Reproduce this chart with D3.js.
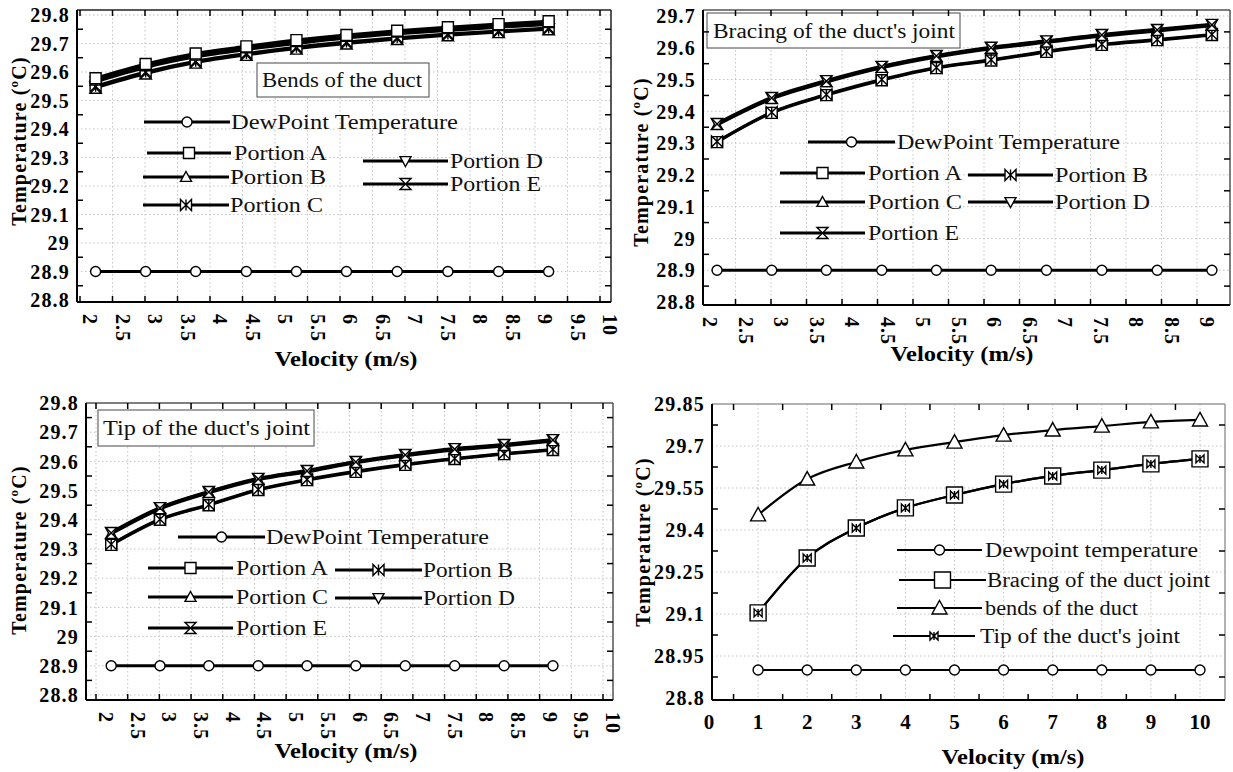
<!DOCTYPE html>
<html>
<head>
<meta charset="utf-8">
<script src="https://cdn.jsdelivr.net/npm/d3@7"></script>
<style>
body { margin: 0; background: #fff; }
text { font-family: "Liberation Serif", "Times New Roman", serif; }
</style>
</head>
<body>
<script>
// ---- data ----
var velocityPortion = [2.24, 3.01, 3.78, 4.56, 5.33, 6.1, 6.88, 7.66, 8.44, 9.21];
var velocity = [1, 2, 3, 4, 5, 6, 7, 8, 9, 10];
var dewPoint = [28.9, 28.9, 28.9, 28.9, 28.9, 28.9, 28.9, 28.9, 28.9, 28.9];

var portionNames = ["Portion A", "Portion B", "Portion C", "Portion D", "Portion E"];
var dewName = "DewPoint Temperature";

// bends of the duct
var bendsA = [29.578, 29.628, 29.665, 29.69, 29.712, 29.73, 29.745, 29.757, 29.768, 29.778];
var bendsB = [29.57, 29.62, 29.657, 29.683, 29.705, 29.723, 29.738, 29.75, 29.761, 29.771];
var bendsC = [29.55, 29.6, 29.638, 29.665, 29.687, 29.705, 29.72, 29.733, 29.744, 29.754];
var bendsD = [29.566, 29.616, 29.653, 29.679, 29.7, 29.719, 29.734, 29.746, 29.757, 29.767];
var bendsE = [29.545, 29.595, 29.633, 29.66, 29.682, 29.7, 29.716, 29.729, 29.74, 29.75];

// bracing of the duct's joint
var bracingA = [29.303, 29.395, 29.451, 29.498, 29.536, 29.56, 29.587, 29.609, 29.624, 29.64];
var bracingB = [29.305, 29.397, 29.453, 29.5, 29.538, 29.562, 29.589, 29.611, 29.626, 29.642];
var bracingC = [29.357, 29.439, 29.492, 29.537, 29.571, 29.597, 29.617, 29.637, 29.653, 29.669];
var bracingD = [29.362, 29.444, 29.497, 29.542, 29.576, 29.602, 29.622, 29.642, 29.658, 29.674];
var bracingE = [29.36, 29.442, 29.495, 29.54, 29.574, 29.6, 29.62, 29.64, 29.656, 29.672];

// tip of the duct's joint
var tipA = [29.314, 29.4, 29.45, 29.502, 29.536, 29.564, 29.588, 29.608, 29.625, 29.639];
var tipB = [29.316, 29.402, 29.452, 29.504, 29.538, 29.566, 29.59, 29.61, 29.627, 29.641];
var tipC = [29.352, 29.437, 29.492, 29.537, 29.564, 29.595, 29.619, 29.639, 29.653, 29.67];
var tipD = [29.357, 29.442, 29.497, 29.542, 29.569, 29.6, 29.624, 29.644, 29.658, 29.675];
var tipE = [29.355, 29.44, 29.495, 29.54, 29.567, 29.598, 29.622, 29.642, 29.656, 29.673];

// comparison
var compareNames = ["Dewpoint temperature", "Bracing of the duct joint", "bends of the duct", "Tip of the duct's joint"];
var compareBends = [29.454, 29.582, 29.643, 29.686, 29.714, 29.739, 29.757, 29.771, 29.786, 29.793];
var compareBracing = [29.104, 29.3, 29.407, 29.479, 29.525, 29.564, 29.593, 29.614, 29.636, 29.654];
var compareTip = [29.104, 29.3, 29.407, 29.479, 29.525, 29.564, 29.593, 29.614, 29.636, 29.654];

// tick labels
var xTicksPortion = ["2", "2.5", "3", "3.5", "4", "4.5", "5", "5.5", "6", "6.5", "7", "7.5", "8", "8.5", "9", "9.5", "10"];
var xTicksBracing = ["2", "2.5", "3", "3.5", "4", "4.5", "5", "5.5", "6", "6.5", "7", "7.5", "8", "8.5", "9"];
var xTicksCompare = ["0", "1", "2", "3", "4", "5", "6", "7", "8", "9", "10"];
var yTicksTenth = ["28.8", "28.9", "29", "29.1", "29.2", "29.3", "29.4", "29.5", "29.6", "29.7", "29.8"];
var yTicksBracing = ["28.8", "28.9", "29", "29.1", "29.2", "29.3", "29.4", "29.5", "29.6", "29.7"];
var yTicksCompare = ["28.8", "28.95", "29.1", "29.25", "29.4", "29.55", "29.7", "29.85"];

var svg = d3.select("body").append("svg").attr("width", 1233).attr("height", 772);

var markerPath = function(type, s) {
  if (type == "circle") return "M" + (-s) + ",0a" + s + "," + s + " 0 1,0 " + (2 * s) + ",0a" + s + "," + s + " 0 1,0 " + (-2 * s) + ",0Z";
  if (type == "square") return "M" + (-s) + "," + (-s) + "h" + (2 * s) + "v" + (2 * s) + "h" + (-2 * s) + "Z";
  if (type == "up") return "M0," + (-s) + "L" + s + "," + (s * 0.8) + "L" + (-s) + "," + (s * 0.8) + "Z";
  if (type == "down") return "M0," + s + "L" + s + "," + (-s * 0.8) + "L" + (-s) + "," + (-s * 0.8) + "Z";
  if (type == "bowtie") return "M" + (-s) + "," + (-s) + "L" + s + "," + s + "L" + s + "," + (-s) + "L" + (-s) + "," + s + "ZM0," + (-s) + "V" + s;
  if (type == "hourglass") return "M" + (-s) + "," + (-s) + "L" + s + "," + (-s) + "L" + (-s) + "," + s + "L" + s + "," + s + "Z";
};

var midpoints = function(vals) {
  var out = [];
  for (var i = 0; i < vals.length - 1; i++) out.push((+vals[i] + +vals[i + 1]) / 2);
  return out;
};

var drawPanel = function(p) {
  var g = svg.append("g");
  var f = p.frame;
  var x = d3.scaleLinear().domain(p.xDomain).range(p.xRange);
  var y = d3.scaleLinear().domain(p.yDomain).range(p.yRange);

  // dotted grid
  g.selectAll(".gx").data(p.gridX.filter(function(d) { return x(d) > f.left + 3 && x(d) < f.right - 3; }))
    .enter().append("line")
    .attr("x1", function(d) { return x(d); }).attr("x2", function(d) { return x(d); })
    .attr("y1", f.top).attr("y2", f.bottom)
    .attr("stroke", "#c4c4c4").attr("stroke-dasharray", "1.5,2.5");
  g.selectAll(".gy").data(p.yTicks.filter(function(d) { return y(+d) > f.top + 3 && y(+d) < f.bottom - 3; }))
    .enter().append("line")
    .attr("y1", function(d) { return y(+d); }).attr("y2", function(d) { return y(+d); })
    .attr("x1", f.left).attr("x2", f.right)
    .attr("stroke", "#c4c4c4").attr("stroke-dasharray", "1.5,2.5");

  // title box
  if (p.title) {
    var t = p.title;
    g.append("rect").attr("x", t.x).attr("y", t.y).attr("width", t.w).attr("height", t.h)
      .attr("fill", "#fff").attr("stroke", "#666").attr("stroke-width", 1.2);
    g.append("text").attr("x", t.tx).attr("y", t.y + t.h / 2 + 7).attr("font-size", 20)
      .attr("textLength", t.tw).attr("lengthAdjust", "spacingAndGlyphs").attr("fill", "#111").text(t.text);
  }

  // frame
  g.append("line").attr("x1", f.left).attr("x2", f.right).attr("y1", f.top).attr("y2", f.top).attr("stroke", p.topColor).attr("stroke-width", 1.5);
  g.append("line").attr("x1", f.right).attr("x2", f.right).attr("y1", f.top).attr("y2", f.bottom).attr("stroke", p.topColor).attr("stroke-width", 1.5);
  g.append("line").attr("x1", f.left).attr("x2", f.left).attr("y1", f.top).attr("y2", f.bottom).attr("stroke", "#000").attr("stroke-width", 2);
  g.append("line").attr("x1", f.left).attr("x2", f.right).attr("y1", f.bottom).attr("y2", f.bottom).attr("stroke", "#000").attr("stroke-width", 2);

  // inward ticks
  var xt = p.xTickAt.filter(function(d) { return x(d) > f.left + 2 && x(d) < f.right - 2; });
  var yt = midpoints(p.yTicks);
  [f.top, f.bottom].forEach(function(edge, k) {
    g.selectAll(null).data(xt).enter().append("line")
      .attr("x1", function(d) { return x(d); }).attr("x2", function(d) { return x(d); })
      .attr("y1", edge).attr("y2", k == 0 ? edge + 6 : edge - 6)
      .attr("stroke", "#000").attr("stroke-width", 1.5);
  });
  [f.left, f.right].forEach(function(edge, k) {
    g.selectAll(null).data(yt).enter().append("line")
      .attr("y1", function(d) { return y(d); }).attr("y2", function(d) { return y(d); })
      .attr("x1", edge).attr("x2", k == 0 ? edge + 6 : edge - 6)
      .attr("stroke", "#000").attr("stroke-width", 1.5);
  });

  // tick labels
  g.selectAll(null).data(p.yTicks).enter().append("text")
    .attr("x", f.left - 7).attr("y", function(d) { return y(+d); }).attr("dy", "0.36em")
    .attr("text-anchor", "end").attr("font-size", 20).attr("font-weight", "bold")
    .attr("letter-spacing", 1.2).text(function(d) { return d; });
  if (p.rotateX) {
    g.selectAll(null).data(p.xTicks).enter().append("text")
      .attr("transform", function(d) { return "translate(" + (x(+d) + 3) + "," + (f.bottom + 12) + ") rotate(90)"; })
      .attr("font-size", 20).attr("font-weight", "bold").attr("letter-spacing", 1)
      .text(function(d) { return d; });
  } else {
    g.selectAll(null).data(p.xTicks).enter().append("text")
      .attr("x", function(d) { return x(+d); }).attr("y", f.bottom + 29)
      .attr("text-anchor", "middle").attr("font-size", 21).attr("font-weight", "bold")
      .text(function(d) { return d; });
  }

  // axis titles
  var yt2 = g.append("text").attr("transform", "translate(" + p.yTitle[0] + "," + p.yTitle[1] + ") rotate(-90)")
    .attr("text-anchor", "middle").attr("dy", "0.35em").attr("font-size", 20).attr("font-weight", "bold").attr("letter-spacing", 1.2);
  yt2.append("tspan").text("Temperature (");
  yt2.append("tspan").attr("font-size", 13).attr("dy", -8).text("o");
  yt2.append("tspan").attr("dy", 8).text("C)");
  g.append("text").attr("x", p.xTitle[0]).attr("y", p.xTitle[1]).attr("text-anchor", "middle")
    .attr("font-size", 20).attr("font-weight", "bold").attr("textLength", 143).attr("lengthAdjust", "spacingAndGlyphs")
    .text("Velocity (m/s)");

  // series
  var line = d3.line().curve(d3.curveMonotoneX);
  p.series.forEach(function(s) {
    var pts = s.values.map(function(v, i) { return [x(s.xs[i]), y(v)]; });
    g.append("path").attr("d", line(pts)).attr("fill", "none").attr("stroke", "#000").attr("stroke-width", p.lineWidth);
  });
  p.series.forEach(function(s) {
    var pts = s.values.map(function(v, i) { return [x(s.xs[i]), y(v)]; });
    g.selectAll(null).data(pts).enter().append("path")
      .attr("transform", function(d) { return "translate(" + d[0] + "," + d[1] + ")"; })
      .attr("d", markerPath(s.marker, s.size))
      .attr("fill", "#fff").attr("stroke", "#000").attr("stroke-width", 1.4);
  });

  // legend
  p.legend.forEach(function(l) {
    g.append("line").attr("x1", l.x0).attr("x2", l.x1).attr("y1", l.y).attr("y2", l.y)
      .attr("stroke", "#000").attr("stroke-width", p.lineWidth);
    g.append("path").attr("transform", "translate(" + ((l.x0 + l.x1) / 2) + "," + l.y + ")")
      .attr("d", markerPath(l.marker, l.size)).attr("fill", "#fff").attr("stroke", "#000").attr("stroke-width", 1.4);
    g.append("text").attr("x", l.tx).attr("y", l.y + 7).attr("font-size", 20).attr("fill", "#111")
      .attr("textLength", l.tw).attr("lengthAdjust", "spacingAndGlyphs").text(l.label);
  });
};

// ---- panel 1: bends of the duct ----
drawPanel({
  frame: { left: 77, top: 10, right: 611, bottom: 302 },
  xDomain: [2, 10], xRange: [80, 600],
  yDomain: [28.8, 29.8], yRange: [300, 15],
  xTicks: xTicksPortion, xTickAt: xTicksPortion.map(Number), gridX: xTicksPortion.map(Number),
  yTicks: yTicksTenth, rotateX: true, topColor: "#222", lineWidth: 3,
  yTitle: [19, 141], xTitle: [346, 366],
  title: { x: 257, y: 63, w: 172, h: 34, tx: 262, tw: 160, text: "Bends of the duct" },
  series: [
    { xs: velocityPortion, values: dewPoint, marker: "circle", size: 5 },
    { xs: velocityPortion, values: bendsE, marker: "hourglass", size: 5.5 },
    { xs: velocityPortion, values: bendsC, marker: "bowtie", size: 5.5 },
    { xs: velocityPortion, values: bendsD, marker: "down", size: 5.5 },
    { xs: velocityPortion, values: bendsB, marker: "up", size: 5.5 },
    { xs: velocityPortion, values: bendsA, marker: "square", size: 5.5 }
  ],
  legend: [
    { marker: "circle", size: 5, x0: 144, x1: 230, y: 122, tx: 231, tw: 227, label: dewName },
    { marker: "square", size: 5.5, x0: 147, x1: 231, y: 153, tx: 234, tw: 93, label: portionNames[0] },
    { marker: "up", size: 5.5, x0: 143, x1: 229, y: 177, tx: 230, tw: 96, label: portionNames[1] },
    { marker: "bowtie", size: 5.5, x0: 143, x1: 229, y: 205, tx: 230, tw: 93, label: portionNames[2] },
    { marker: "down", size: 5.5, x0: 363, x1: 448, y: 161, tx: 450, tw: 93, label: portionNames[3] },
    { marker: "hourglass", size: 5.5, x0: 363, x1: 448, y: 184, tx: 450, tw: 91, label: portionNames[4] }
  ]
});

// ---- panel 2: bracing of the duct's joint ----
drawPanel({
  frame: { left: 703, top: 10, right: 1230, bottom: 305 },
  xDomain: [2, 9], xRange: [700, 1197],
  yDomain: [28.8, 29.7], yRange: [302, 16],
  xTicks: xTicksBracing, xTickAt: xTicksBracing.map(Number), gridX: xTicksBracing.map(Number),
  yTicks: yTicksBracing, rotateX: true, topColor: "#555", lineWidth: 3,
  yTitle: [641, 162], xTitle: [962, 361],
  title: { x: 707, y: 13, w: 253, h: 35, tx: 713, tw: 242, text: "Bracing of the duct's joint" },
  series: [
    { xs: velocityPortion, values: dewPoint, marker: "circle", size: 5 },
    { xs: velocityPortion, values: bracingA, marker: "square", size: 5.5 },
    { xs: velocityPortion, values: bracingB, marker: "bowtie", size: 5.5 },
    { xs: velocityPortion, values: bracingC, marker: "up", size: 5.5 },
    { xs: velocityPortion, values: bracingD, marker: "down", size: 5.5 },
    { xs: velocityPortion, values: bracingE, marker: "hourglass", size: 5.5 }
  ],
  legend: [
    { marker: "circle", size: 5, x0: 808, x1: 895, y: 142, tx: 897, tw: 223, label: dewName },
    { marker: "square", size: 5.5, x0: 780, x1: 865, y: 173, tx: 868, tw: 94, label: portionNames[0] },
    { marker: "bowtie", size: 5.5, x0: 968, x1: 1053, y: 175, tx: 1055, tw: 93, label: portionNames[1] },
    { marker: "up", size: 5.5, x0: 780, x1: 865, y: 202, tx: 868, tw: 94, label: portionNames[2] },
    { marker: "down", size: 5.5, x0: 968, x1: 1053, y: 202, tx: 1055, tw: 95, label: portionNames[3] },
    { marker: "hourglass", size: 5.5, x0: 780, x1: 865, y: 233, tx: 868, tw: 91, label: portionNames[4] }
  ]
});

// ---- panel 3: tip of the duct's joint ----
drawPanel({
  frame: { left: 86, top: 403, right: 613, bottom: 700 },
  xDomain: [2, 10], xRange: [96, 603],
  yDomain: [28.8, 29.8], yRange: [695, 403],
  xTicks: xTicksPortion, xTickAt: xTicksPortion.map(Number), gridX: xTicksPortion.map(Number),
  yTicks: yTicksTenth, rotateX: true, topColor: "#555", lineWidth: 3,
  yTitle: [19, 550], xTitle: [346, 758],
  title: { x: 98, y: 410, w: 216, h: 36, tx: 103, tw: 207, text: "Tip of the duct's joint" },
  series: [
    { xs: velocityPortion, values: dewPoint, marker: "circle", size: 5 },
    { xs: velocityPortion, values: tipA, marker: "square", size: 5.5 },
    { xs: velocityPortion, values: tipB, marker: "bowtie", size: 5.5 },
    { xs: velocityPortion, values: tipC, marker: "up", size: 5.5 },
    { xs: velocityPortion, values: tipD, marker: "down", size: 5.5 },
    { xs: velocityPortion, values: tipE, marker: "hourglass", size: 5.5 }
  ],
  legend: [
    { marker: "circle", size: 5, x0: 178, x1: 265, y: 537, tx: 266, tw: 223, label: dewName },
    { marker: "square", size: 5.5, x0: 148, x1: 233, y: 568, tx: 236, tw: 92, label: portionNames[0] },
    { marker: "bowtie", size: 5.5, x0: 335, x1: 422, y: 570, tx: 423, tw: 90, label: portionNames[1] },
    { marker: "up", size: 5.5, x0: 148, x1: 233, y: 597, tx: 236, tw: 92, label: portionNames[2] },
    { marker: "down", size: 5.5, x0: 335, x1: 422, y: 598, tx: 423, tw: 92, label: portionNames[3] },
    { marker: "hourglass", size: 5.5, x0: 148, x1: 233, y: 628, tx: 236, tw: 91, label: portionNames[4] }
  ]
});

// ---- panel 4: comparison ----
drawPanel({
  frame: { left: 712, top: 404, right: 1225, bottom: 700 },
  xDomain: [0, 10], xRange: [709, 1200],
  yDomain: [28.8, 29.85], yRange: [698, 404],
  xTicks: xTicksCompare, xTickAt: midpoints(xTicksCompare.concat(["11"])), gridX: xTicksCompare.map(Number),
  yTicks: yTicksCompare, rotateX: false, topColor: "#999", lineWidth: 2.2,
  yTitle: [643, 542], xTitle: [1013, 764],
  series: [
    { xs: velocity, values: dewPoint, marker: "circle", size: 5 },
    { xs: velocity, values: compareBends, marker: "up", size: 7.5 },
    { xs: velocity, values: compareBracing, marker: "square", size: 8 },
    { xs: velocity, values: compareTip, marker: "bowtie", size: 4 }
  ],
  legend: [
    { marker: "circle", size: 5, x0: 897, x1: 982, y: 550, tx: 985, tw: 213, label: compareNames[0] },
    { marker: "square", size: 8, x0: 899, x1: 986, y: 580, tx: 987, tw: 223, label: compareNames[1] },
    { marker: "up", size: 7.5, x0: 897, x1: 982, y: 608, tx: 985, tw: 153, label: compareNames[2] },
    { marker: "bowtie", size: 4, x0: 893, x1: 975, y: 636, tx: 980, tw: 200, label: compareNames[3] }
  ]
});
</script>
</body>
</html>
